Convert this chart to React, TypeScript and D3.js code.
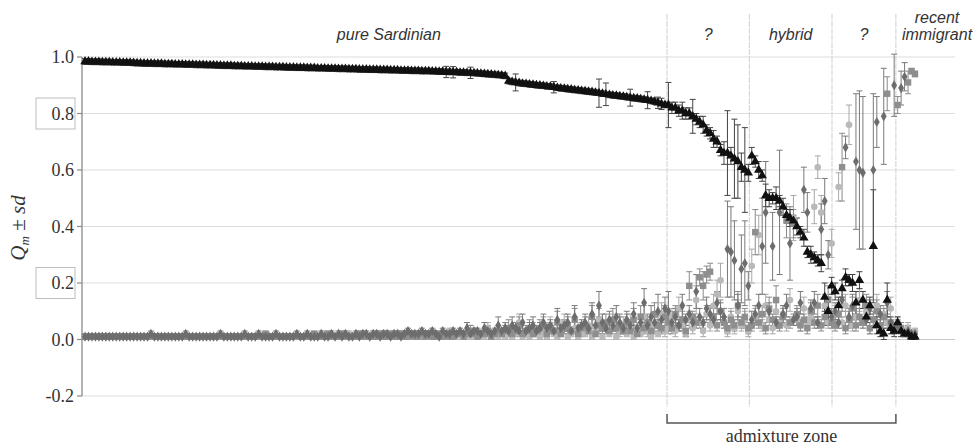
import * as d3 from "d3";

// Q values (percent) per individual, sorted as in the figure
const sard = [
  98.4, 98.4, 98.3, 98.3, 98.3, 98.2, 98.2, 98.2, 98.1, 98.1, 98.1, 98.0,
  98.0, 98.0, 97.9, 97.8, 97.8, 97.7, 97.7, 97.7, 97.6, 97.6, 97.6, 97.5,
  97.5, 97.5, 97.4, 97.4, 97.4, 97.3, 97.3, 97.3, 97.2, 97.2, 97.2, 97.1,
  97.1, 97.1, 97.0, 97.0, 96.9, 96.9, 96.9, 96.8, 96.8, 96.8, 96.7, 96.7,
  96.7, 96.6, 96.6, 96.6, 96.5, 96.5, 96.5, 96.4, 96.4, 96.4, 96.3, 96.3,
  96.3, 96.2, 96.2, 96.2, 96.1, 96.1, 96.1, 96.0, 96.0, 96.0, 95.9, 95.9,
  95.9, 95.8, 95.8, 95.8, 95.7, 95.7, 95.7, 95.6, 95.6, 95.6, 95.5, 95.5,
  95.5, 95.4, 95.4, 95.4, 95.3, 95.3, 95.3, 95.2, 95.2, 95.2, 95.1, 95.1,
  95.1, 95.0, 95.0, 95.0, 94.9, 94.9, 94.8, 94.8, 94.7, 94.7, 94.6, 94.6,
  94.5, 94.5, 94.4, 94.4, 94.3, 94.2, 94.1, 94.0, 93.9, 93.8, 93.7, 93.6,
  93.5, 93.3, 91.5, 91.2, 91.0, 90.8, 90.6, 90.5, 90.3, 90.2, 90.0, 89.9,
  89.8, 89.6, 89.5, 89.3, 89.1, 88.9, 88.8, 88.6, 88.5, 88.3, 88.2, 88.0,
  87.9, 87.7, 87.6, 87.4, 87.2, 87.0, 86.8, 86.6, 86.4, 86.3, 86.1, 86.0,
  85.8, 85.6, 85.4, 85.3, 85.1, 84.9, 84.7, 84.5, 84.2, 83.8, 83.4, 83.0,
  83, 82, 82, 81, 81, 80, 80, 79, 78, 77, 76, 74, 73, 71, 70, 67, 66, 66, 65, 64, 63, 61, 60, 59,
  65, 63, 60, 58, 51, 50, 50, 50, 49, 47, 44, 43, 42, 40, 38, 36, 31, 30, 29, 28, 27, 15, 10, 19,
  17, 12, 18, 22, 21, 20, 13, 21, 14, 8, 12, 33, 5, 3, 2, 14, 4, 3,
  6, 3, 2, 2, 1, 1,
];
const sardSd = [
  1, 1, 1, 1, 1, 1, 1, 1, 1, 1, 1, 1,
  1, 1, 1, 1, 1, 1, 1, 1, 1, 1, 1, 1,
  1, 1, 1, 1, 1, 1, 1, 1, 1, 1, 1, 1,
  1, 1, 1, 1, 1, 1, 1, 1, 1, 1, 1, 1,
  1, 1, 1, 1, 1, 1, 1, 1, 1, 1, 1, 1,
  1, 1, 1, 1, 1, 1, 1, 1, 1, 1, 1, 1,
  1, 1, 1, 1, 1, 1, 1, 1, 1, 1, 1, 1,
  1, 1, 1, 1, 1, 1, 1, 1, 1, 1, 1, 1,
  1, 1, 1, 1, 1, 1, 1, 1, 2, 1, 2, 1,
  1, 1, 1, 2, 1, 1, 1, 1, 1, 1, 1, 1,
  1, 1, 1, 1, 3, 1, 1, 1, 1, 1, 1, 1,
  1, 1, 1, 2, 1, 1, 1, 1, 1, 1, 1, 1,
  1, 1, 1, 1, 5, 1, 4, 1, 1, 1, 1, 1,
  1, 3, 1, 1, 1, 1, 3, 1, 1, 2, 2, 1,
  8, 2, 2, 2, 3, 2, 2, 6, 2, 2, 3, 2, 2, 3, 2, 2, 4, 15, 3, 14, 13, 5, 15, 3,
  3, 2, 3, 2, 4, 3, 2, 4, 2, 3, 2, 3, 2, 3, 2, 3, 2, 3, 2, 2, 3, 5, 5, 3,
  3, 3, 3, 3, 2, 3, 4, 3, 3, 2, 3, 20, 3, 2, 2, 6, 2, 2,
  2, 2, 1, 1, 1, 1,
];
const diamond = [
  1, 1, 1, 1, 1, 1, 1, 1, 1, 1, 1, 1,
  1, 1, 1, 1, 1, 1, 1, 2, 1, 1, 1, 1,
  1, 1, 1, 1, 1, 2, 1, 1, 1, 1, 1, 1,
  1, 1, 1, 2, 1, 1, 1, 1, 1, 1, 2, 1,
  1, 1, 2, 1, 1, 1, 1, 2, 1, 1, 1, 1,
  1, 2, 1, 1, 2, 1, 1, 1, 2, 1, 1, 2,
  1, 2, 1, 2, 1, 1, 2, 1, 2, 2, 1, 2,
  2, 1, 2, 2, 1, 2, 2, 1, 2, 3, 2, 2,
  2, 3, 2, 2, 3, 2, 1, 3, 2, 2, 3, 2,
  3, 2, 4, 2, 3, 3, 2, 4, 3, 2, 3, 5,
  3, 4, 3, 5, 4, 3, 6, 3, 4, 5, 3, 4,
  6, 4, 5, 3, 7, 4, 5, 6, 3, 8, 4, 5,
  6, 4, 9, 5, 12, 6, 4, 7, 5, 8, 6, 4,
  7, 5, 9, 4, 6, 13, 5, 8, 6, 10, 7, 11,
  10, 6, 8, 5, 12, 7, 9, 6, 17, 8, 6, 11, 9, 7, 13, 10, 8, 32, 31, 28, 12, 25, 27, 19,
  7, 9, 12, 33, 45, 10, 33, 6, 45, 9, 12, 34, 7, 8, 13, 53, 45, 11, 13, 6, 39, 49, 30, 8,
  10, 6, 14, 68, 8, 12, 63, 60, 59, 7, 11, 60, 77, 9, 79, 13, 6, 90,
  5, 89, 93, 3, 2, 2,
];
const diamondSd = [
  1, 1, 1, 1, 1, 1, 1, 1, 1, 1, 1, 1,
  1, 1, 1, 1, 1, 1, 1, 1, 1, 1, 1, 1,
  1, 1, 1, 1, 1, 1, 1, 1, 1, 1, 1, 1,
  1, 1, 1, 1, 1, 1, 1, 1, 1, 1, 1, 1,
  1, 1, 1, 1, 1, 1, 1, 1, 1, 1, 1, 1,
  1, 1, 1, 1, 1, 1, 1, 1, 1, 1, 1, 1,
  1, 1, 1, 1, 1, 1, 1, 1, 1, 1, 1, 1,
  1, 1, 1, 1, 1, 1, 1, 1, 1, 1, 1, 1,
  1, 1, 1, 1, 1, 1, 1, 1, 1, 1, 1, 1,
  1, 1, 2, 1, 1, 1, 1, 2, 1, 1, 1, 3,
  1, 2, 1, 3, 2, 1, 3, 1, 2, 3, 1, 2,
  3, 1, 2, 1, 4, 1, 2, 3, 1, 4, 1, 2,
  3, 1, 4, 2, 5, 3, 1, 3, 2, 4, 3, 1,
  3, 2, 4, 1, 3, 5, 2, 4, 2, 6, 3, 4,
  7, 2, 3, 2, 4, 2, 3, 2, 6, 3, 2, 4, 3, 2, 4, 3, 3, 17, 16, 14, 4, 12, 15, 5,
  3, 3, 4, 17, 18, 3, 12, 2, 22, 3, 4, 13, 2, 3, 4, 8, 7, 3, 4, 2, 9, 8, 5, 3,
  3, 2, 4, 4, 3, 4, 24, 28, 27, 2, 3, 27, 9, 3, 17, 4, 2, 11,
  2, 6, 5, 2, 1, 1,
];
const square = [
  1, 1, 1, 1, 1, 1, 1, 1, 1, 1, 1, 1,
  1, 1, 1, 1, 1, 1, 1, 1, 1, 1, 1, 1,
  1, 1, 1, 1, 1, 1, 1, 1, 1, 1, 1, 1,
  1, 1, 1, 1, 1, 1, 1, 1, 1, 1, 1, 1,
  1, 1, 1, 1, 2, 1, 1, 1, 1, 1, 1, 1,
  1, 1, 1, 1, 1, 1, 2, 1, 1, 1, 2, 1,
  1, 1, 2, 1, 1, 1, 1, 2, 1, 1, 1, 1,
  1, 2, 1, 1, 2, 1, 1, 2, 1, 1, 2, 1,
  1, 2, 1, 2, 1, 1, 2, 1, 2, 1, 1, 2,
  2, 1, 2, 3, 2, 1, 2, 2, 3, 1, 2, 3,
  2, 3, 4, 2, 3, 5, 2, 3, 4, 2, 3, 4,
  5, 2, 4, 3, 6, 2, 4, 5, 3, 7, 2, 4,
  5, 3, 8, 2, 5, 4, 6, 3, 7, 4, 5, 3,
  6, 3, 7, 2, 8, 4, 6, 3, 9, 5, 4, 8,
  6, 4, 9, 5, 7, 3, 19, 8, 6, 22, 19, 23, 24, 8, 5, 10, 6, 4, 7, 5, 12, 6, 8, 4,
  5, 38, 6, 9, 4, 11, 7, 14, 5, 8, 42, 6, 41, 9, 5, 7, 4, 10, 6, 12, 5, 8, 14, 6,
  5, 9, 61, 4, 7, 11, 5, 8, 6, 12, 4, 7, 10, 5, 8, 87, 6, 4,
  83, 4, 2, 91, 95, 94,
];
const squareSd = [
  1, 1, 1, 1, 1, 1, 1, 1, 1, 1, 1, 1,
  1, 1, 1, 1, 1, 1, 1, 1, 1, 1, 1, 1,
  1, 1, 1, 1, 1, 1, 1, 1, 1, 1, 1, 1,
  1, 1, 1, 1, 1, 1, 1, 1, 1, 1, 1, 1,
  1, 1, 1, 1, 1, 1, 1, 1, 1, 1, 1, 1,
  1, 1, 1, 1, 1, 1, 1, 1, 1, 1, 1, 1,
  1, 1, 1, 1, 1, 1, 1, 1, 1, 1, 1, 1,
  1, 1, 1, 1, 1, 1, 1, 1, 1, 1, 1, 1,
  1, 1, 1, 1, 1, 1, 1, 1, 1, 1, 1, 1,
  1, 1, 1, 2, 1, 1, 1, 1, 2, 1, 1, 2,
  1, 2, 3, 1, 2, 3, 1, 2, 3, 1, 2, 3,
  3, 1, 2, 1, 4, 1, 2, 3, 1, 4, 1, 2,
  3, 1, 4, 1, 3, 2, 3, 1, 4, 2, 3, 1,
  3, 1, 4, 1, 4, 2, 3, 1, 4, 2, 2, 4,
  3, 2, 3, 2, 3, 2, 5, 2, 2, 3, 5, 3, 3, 3, 2, 4, 2, 2, 3, 2, 5, 2, 3, 2,
  2, 8, 2, 3, 2, 4, 2, 5, 2, 3, 6, 2, 5, 3, 2, 2, 2, 3, 2, 4, 2, 3, 5, 2,
  2, 3, 12, 2, 3, 4, 2, 3, 2, 4, 2, 3, 4, 2, 3, 6, 2, 2,
  3, 2, 1, 4, 1, 1,
];
const circle = [
  1, 1, 1, 1, 1, 1, 1, 1, 1, 1, 1, 1,
  1, 1, 1, 1, 1, 1, 1, 1, 1, 1, 1, 1,
  1, 1, 1, 1, 1, 1, 1, 1, 1, 1, 1, 1,
  1, 1, 1, 1, 1, 1, 1, 1, 1, 1, 1, 1,
  1, 1, 1, 1, 1, 1, 1, 1, 1, 1, 1, 1,
  1, 1, 1, 1, 1, 1, 1, 1, 1, 2, 1, 1,
  1, 1, 1, 1, 2, 1, 1, 1, 1, 1, 1, 2,
  1, 1, 2, 1, 1, 1, 2, 1, 1, 1, 1, 2,
  1, 2, 1, 1, 2, 1, 1, 2, 1, 3, 1, 1,
  2, 1, 1, 3, 1, 2, 1, 1, 4, 1, 2, 1,
  2, 1, 3, 1, 2, 6, 1, 2, 1, 4, 2, 1,
  3, 1, 5, 2, 1, 3, 6, 1, 2, 4, 1, 3,
  2, 5, 1, 3, 7, 1, 4, 2, 6, 1, 3, 5,
  2, 6, 1, 4, 2, 8, 3, 1, 5, 2, 9, 3,
  4, 8, 3, 11, 5, 2, 7, 4, 14, 6, 3, 9, 5, 12, 16, 21, 6, 3, 8, 4, 10, 5, 7, 3,
  26, 8, 37, 5, 12, 7, 4, 10, 6, 9, 5, 14, 43, 7, 5, 11, 6, 8, 47, 61, 45, 12, 6, 34,
  9, 54, 6, 12, 76, 5, 8, 14, 6, 10, 4, 7, 12, 5, 9, 6, 11, 4,
  6, 4, 3, 4, 2, 3,
];
const circleSd = [
  1, 1, 1, 1, 1, 1, 1, 1, 1, 1, 1, 1,
  1, 1, 1, 1, 1, 1, 1, 1, 1, 1, 1, 1,
  1, 1, 1, 1, 1, 1, 1, 1, 1, 1, 1, 1,
  1, 1, 1, 1, 1, 1, 1, 1, 1, 1, 1, 1,
  1, 1, 1, 1, 1, 1, 1, 1, 1, 1, 1, 1,
  1, 1, 1, 1, 1, 1, 1, 1, 1, 1, 1, 1,
  1, 1, 1, 1, 1, 1, 1, 1, 1, 1, 1, 1,
  1, 1, 1, 1, 1, 1, 1, 1, 1, 1, 1, 1,
  1, 1, 1, 1, 1, 1, 1, 1, 1, 1, 1, 1,
  1, 1, 1, 2, 1, 1, 1, 1, 2, 1, 1, 1,
  1, 1, 2, 1, 1, 3, 1, 1, 1, 2, 1, 1,
  2, 1, 3, 1, 1, 2, 3, 1, 1, 2, 1, 2,
  1, 3, 1, 2, 4, 1, 2, 1, 3, 1, 2, 3,
  1, 3, 1, 2, 1, 4, 2, 1, 3, 1, 4, 2,
  2, 3, 2, 4, 2, 1, 3, 2, 5, 2, 2, 3, 2, 4, 5, 6, 2, 2, 3, 2, 4, 2, 3, 2,
  6, 3, 7, 2, 4, 2, 2, 3, 2, 3, 2, 4, 8, 2, 2, 4, 2, 3, 6, 4, 6, 4, 2, 5,
  3, 5, 2, 4, 7, 2, 3, 4, 2, 3, 2, 3, 4, 2, 3, 2, 4, 2,
  2, 2, 1, 2, 1, 1,
];

const yTicks = [-0.2, 0, 0.2, 0.4, 0.6, 0.8, 1.0];
const boxedTicks = [0.8, 0.2];
// dashed separators, in individual-index units
const zoneEdges = [167.6, 191.3, 215.1, 233.5];
const zoneLabels = ["?", "hybrid", "?"];

const W = 976;
const H = 448;

const x = d3.scaleLinear().domain([0, sard.length - 1]).range([85, 915]);
const y = d3.scaleLinear().domain([-0.2, 1.0]).range([396, 57]);
const plotLeft = 82;
const plotRight = 955;

const triPath = d3.symbol(d3.symbolTriangle, 38)();
const diaPath = d3.symbol(d3.symbolDiamond, 30)();

const series = [
  { key: "circle", vals: circle, sd: circleSd, fill: "#b9b9b9", bar: "#a8a8a8" },
  { key: "square", vals: square, sd: squareSd, fill: "#8e8e8e", bar: "#8a8a8a" },
  { key: "diamond", vals: diamond, sd: diamondSd, fill: "#6d6d6d", bar: "#7a7a7a" },
  { key: "sard", vals: sard, sd: sardSd, fill: "#111", bar: "#444" },
];

function Marker({ kind, cx, cy, fill }: { kind: string; cx: number; cy: number; fill: string }) {
  if (kind === "circle") return <circle cx={cx} cy={cy} r={3.3} fill={fill} />;
  if (kind === "square") return <rect x={cx - 3.2} y={cy - 3.2} width={6.4} height={6.4} fill={fill} />;
  const d = kind === "diamond" ? diaPath : triPath;
  return <path d={d as string} transform={`translate(${cx},${cy})`} fill={fill} />;
}

export default function App() {
  return (
    <svg width={W} height={H} style={{ position: "absolute", left: 0, top: 0, background: "#fff" }}>
      {/* gridlines */}
      {yTicks.map((t) => (
        <line key={t} x1={plotLeft} x2={plotRight} y1={y(t)} y2={y(t)} stroke={t === 0 ? "#c8c8c8" : "#dedede"} strokeWidth={1.2} />
      ))}
      {/* zone separators */}
      {zoneEdges.map((e) => (
        <line key={e} x1={x(e)} x2={x(e)} y1={14} y2={407} stroke="#cfcfcf" strokeWidth={1} strokeDasharray="6,1" />
      ))}
      {/* y axis */}
      <line x1={plotLeft} x2={plotLeft} y1={y(1.0)} y2={y(-0.2)} stroke="#8a8a8a" strokeWidth={1.3} />
      {yTicks.map((t) => (
        <g key={"t" + t}>
          <line x1={plotLeft - 5} x2={plotLeft} y1={y(t)} y2={y(t)} stroke="#8a8a8a" strokeWidth={1.2} />
          <text x={74} y={y(t) + 6} textAnchor="end" fontFamily="'Liberation Serif', 'DejaVu Serif', serif" fontSize={18} fill="#333">
            {t.toFixed(1)}
          </text>
        </g>
      ))}
      {boxedTicks.map((t) => (
        <rect key={"b" + t} x={36} y={y(t) - 15.5} width={39} height={31} fill="none" stroke="#bdbdbd" strokeWidth={1} />
      ))}
      {/* y label */}
      <text transform="translate(25,228) rotate(-90)" textAnchor="middle" fontFamily="'Liberation Serif', serif" fontSize={21} fill="#333">
        <tspan fontStyle="italic">Q</tspan>
        <tspan fontStyle="italic" fontSize={13} dy={4}>m</tspan>
        <tspan dy={-4}> ± </tspan>
        <tspan fontStyle="italic">sd</tspan>
      </text>
      {/* error bars */}
      {series.map((s) => (
        <g key={"e" + s.key} stroke={s.bar} strokeWidth={1}>
          {s.vals.map((v, i) => {
            const cx = x(i);
            const lo = y((v - s.sd[i]) / 100);
            const hi = y((v + s.sd[i]) / 100);
            return (
              <g key={i}>
                <line x1={cx} x2={cx} y1={lo} y2={hi} />
                <line x1={cx - 3} x2={cx + 3} y1={lo} y2={lo} />
                <line x1={cx - 3} x2={cx + 3} y1={hi} y2={hi} />
              </g>
            );
          })}
        </g>
      ))}
      {/* markers */}
      {series.map((s) => (
        <g key={"m" + s.key}>
          {s.vals.map((v, i) => (
            <Marker key={i} kind={s.key} cx={x(i)} cy={y(v / 100)} fill={s.fill} />
          ))}
        </g>
      ))}
      {/* zone labels */}
      <g fontFamily="'Liberation Sans', Arial, sans-serif" fontStyle="italic" fontSize={16} fill="#333" textAnchor="middle">
        <text x={x(87.5)} y={40}>pure Sardinian</text>
        {zoneLabels.map((l, k) => (
          <text key={k} x={(x(zoneEdges[k]) + x(zoneEdges[k + 1])) / 2} y={40}>{l}</text>
        ))}
        <text x={937} y={23}>recent</text>
        <text x={937} y={40}>immigrant</text>
      </g>
      {/* admixture bracket */}
      <path
        d={`M${x(zoneEdges[0])},414 V423 H${x(zoneEdges[3])} V414`}
        fill="none"
        stroke="#555"
        strokeWidth={1.5}
      />
      <text x={(x(zoneEdges[0]) + x(zoneEdges[3])) / 2} y={442} textAnchor="middle" fontFamily="'Liberation Serif', serif" fontSize={18} fill="#333">
        admixture zone
      </text>
    </svg>
  );
}
